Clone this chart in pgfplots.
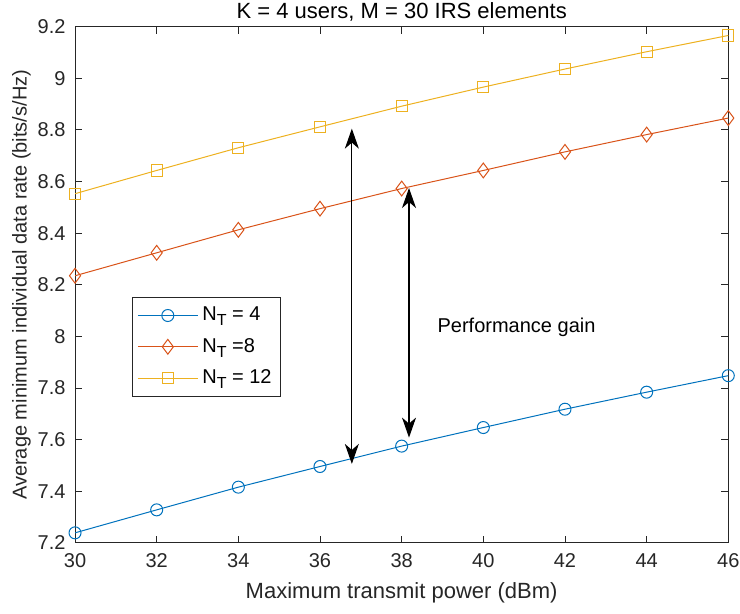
\documentclass[border=0pt]{standalone}
\usepackage{pgfplots}
\pgfplotsset{compat=1.18}
\usepackage{fontspec}
\setmainfont{Liberation Sans}
\usetikzlibrary{arrows.meta}
\definecolor{mblue}{rgb}{0,0.447,0.741}
\definecolor{mred}{rgb}{0.85,0.325,0.098}
\definecolor{myel}{rgb}{0.929,0.694,0.125}
\definecolor{axgray}{rgb}{0.15,0.15,0.15}
\newcommand{\sub}[1]{\raisebox{-0.45ex}{\fontsize{8}{9}\selectfont #1}}
\begin{document}
\begin{tikzpicture}
\begin{axis}[
  scale only axis,
  width=326.5pt, height=258pt,
  xmin=30, xmax=46, ymin=7.2, ymax=9.2,
  xtick={30,32,...,46},
  ytick={7.2,7.4,7.6,7.8,8,8.2,8.4,8.6,8.8,9,9.2},
  tick align=inside,
  major tick length=3.5pt,
  axis line style={axgray, line width=0.45pt},
  every tick/.style={axgray, line width=0.45pt},
  font=\fontsize{10}{12}\selectfont,
  /pgf/number format/assume math mode=true,
  ticklabel style={font=\fontsize{10}{12}\selectfont, text=axgray},
  xticklabel style={yshift=-1.7pt},
  yticklabel style={xshift=-1.2pt},
  xlabel={Maximum transmit power (dBm)},
  ylabel={Average minimum individual data rate (bits/s/Hz)},
  title={K = 4 users, M = 30 IRS elements},
  every axis title shift=0pt,
  title style={at={(axis description cs:0.5,1.0283)}, anchor=center, font=\fontsize{11}{13}\selectfont},
  xlabel style={at={(axis description cs:0.5,-0.0969)}, anchor=center, font=\fontsize{11}{13}\selectfont, text=axgray},
  ylabel style={at={(axis description cs:-0.0819,0.5)}, anchor=center, font=\fontsize{10}{12}\selectfont, text=axgray},
  legend style={at={(rel axis cs:0.087,0.477)}, anchor=north west, draw=axgray, line width=0.45pt, font=\fontsize{10}{12}\selectfont, row sep=3.2pt, inner xsep=2.5pt, inner ysep=3pt},
  legend cell align=left,
  legend image code/.code={\draw[mark repeat=2,mark phase=2] plot coordinates {(0pt,0pt) (15pt,0pt) (30pt,0pt)};},
]
\addplot[mblue, line width=0.5pt, mark=o, mark size=3pt] coordinates {
(30,7.239) (32,7.328) (34,7.416) (36,7.496) (38,7.575) (40,7.647) (42,7.718) (44,7.784) (46,7.848)};
\addlegendentry{N\sub{T} = 4}
\addplot[mred, line width=0.5pt, mark=diamond, mark size=3.7pt] coordinates {
(30,8.235) (32,8.324) (34,8.413) (36,8.495) (38,8.573) (40,8.643) (42,8.715) (44,8.782) (46,8.846)};
\addlegendentry{N\sub{T} =8}
\addplot[myel, line width=0.5pt, mark=square, mark size=2.8pt] coordinates {
(30,8.553) (32,8.643) (34,8.731) (36,8.812) (38,8.892) (40,8.966) (42,9.036) (44,9.103) (46,9.166)};
\addlegendentry{N\sub{T} = 12}
\draw[black, line width=0.55pt, {Stealth[length=10pt,width=7pt,inset=3pt]}-{Stealth[length=10pt,width=7pt,inset=3pt]}] (axis cs:36.78,8.805) -- (axis cs:36.78,7.506);
\draw[black, line width=0.55pt, {Stealth[length=10pt,width=7pt,inset=3pt]}-{Stealth[length=10pt,width=7pt,inset=3pt]}] (axis cs:38.18,8.575) -- (axis cs:38.18,7.608);
\node[anchor=west, inner sep=0pt, font=\fontsize{10}{12}\selectfont] at (axis cs:38.87,8.037) {Performance gain};
\end{axis}
\pgfresetboundingbox
\path (current axis.south west) ++(-37.5pt,-35.15pt) coordinate (bl);
\path (current axis.north east) ++(5.85pt,13.35pt) coordinate (tr);
\path[use as bounding box] (bl) rectangle (tr);
\end{tikzpicture}
\end{document}
